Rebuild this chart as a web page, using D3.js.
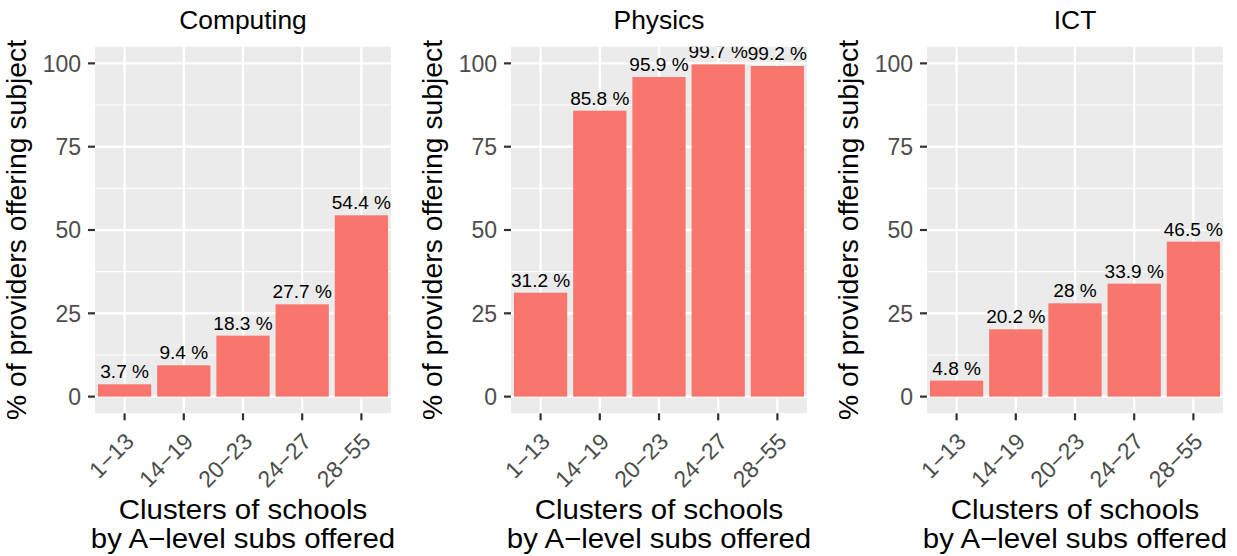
<!DOCTYPE html>
<html>
<head>
<meta charset="utf-8">
<script src="https://cdn.jsdelivr.net/npm/d3@7"></script>
<style>
  html, body { margin: 0; padding: 0; background: #ffffff; }
  svg { display: block; }
  text { font-family: "Liberation Sans", Arial, Helvetica, sans-serif; }
</style>
</head>
<body>
<svg id="chart" width="1237" height="556"></svg>
<script>
// ---- data ----
const categories = ["1\u221213", "14\u221219", "20\u221223", "24\u221227", "28\u221255"];
const subjects = ["Computing", "Physics", "ICT"];
const computingValues = [3.7, 9.4, 18.3, 27.7, 54.4];
const physicsValues = [31.2, 85.8, 95.9, 99.7, 99.2];
const ictValues = [4.8, 20.2, 28, 33.9, 46.5];
const yTicks = [0, 25, 50, 75, 100];
const yMinorTicks = [12.5, 37.5, 62.5, 87.5];
const yTitle = "% of providers offering subject";
const xTitleLines = ["Clusters of schools", "by A\u2212level subs offered"];

const seriesList = [computingValues, physicsValues, ictValues];

// ---- layout ----
const panelW = 296;
const panelLefts = [95, 511, 927];
const panelTop = 46.7, panelBottom = 413.3;

const svg = d3.select("#chart");
const y = d3.scaleLinear().domain([-5, 105]).range([panelBottom, panelTop]);

subjects.forEach((subj, pi) => {
  const values = seriesList[pi];
  const left = panelLefts[pi];
  const x = d3.scalePoint().domain(categories).range([left, left + panelW]).padding(0.5);
  const bw = x.step() * 0.9;
  const g = svg.append("g");

  const clipId = "clip" + pi;
  svg.append("clipPath").attr("id", clipId)
    .append("rect").attr("x", left).attr("y", panelTop)
    .attr("width", panelW).attr("height", panelBottom - panelTop);

  g.append("rect").attr("x", left).attr("y", panelTop)
    .attr("width", panelW).attr("height", panelBottom - panelTop)
    .attr("fill", "#EBEBEB");

  g.selectAll(".minor").data(yMinorTicks).enter().append("line")
    .attr("x1", left).attr("x2", left + panelW)
    .attr("y1", d => y(d)).attr("y2", d => y(d))
    .attr("stroke", "#ffffff").attr("stroke-width", 1.2);
  g.selectAll(".major").data(yTicks).enter().append("line")
    .attr("x1", left).attr("x2", left + panelW)
    .attr("y1", d => y(d)).attr("y2", d => y(d))
    .attr("stroke", "#ffffff").attr("stroke-width", 2.4);
  g.selectAll(".vmajor").data(categories).enter().append("line")
    .attr("y1", panelTop).attr("y2", panelBottom)
    .attr("x1", d => x(d)).attr("x2", d => x(d))
    .attr("stroke", "#ffffff").attr("stroke-width", 2.4);

  const data = categories.map((c, i) => ({ c, v: values[i] }));
  const pg = g.append("g").attr("clip-path", `url(#${clipId})`);

  pg.selectAll(".bar").data(data).enter().append("rect")
    .attr("x", d => x(d.c) - bw / 2)
    .attr("width", bw)
    .attr("y", d => y(d.v))
    .attr("height", d => y(0) - y(d.v))
    .attr("fill", "#F8766D");

  pg.selectAll(".lbl").data(data).enter().append("text")
    .attr("transform", d => `translate(${x(d.c)},${y(d.v) - 6}) scale(1.03,1)`)
    .attr("text-anchor", "middle")
    .attr("font-size", 18.5)
    .attr("fill", "#000000")
    .text(d => d.v + " %");

  g.selectAll(".ytick").data(yTicks).enter().append("line")
    .attr("x1", left - 7).attr("x2", left)
    .attr("y1", d => y(d)).attr("y2", d => y(d))
    .attr("stroke", "#333333").attr("stroke-width", 2.2);
  g.selectAll(".ylab").data(yTicks).enter().append("text")
    .attr("x", left - 14).attr("y", d => y(d))
    .attr("dy", "0.36em")
    .attr("text-anchor", "end")
    .attr("font-size", 23)
    .attr("fill", "#4D4D4D")
    .text(d => d);

  g.selectAll(".xtick").data(categories).enter().append("line")
    .attr("x1", d => x(d)).attr("x2", d => x(d))
    .attr("y1", panelBottom).attr("y2", panelBottom + 7)
    .attr("stroke", "#333333").attr("stroke-width", 2.2);
  g.selectAll(".xlab").data(categories).enter().append("text")
    .attr("transform", d => `translate(${x(d) - 1},${panelBottom + 18}) rotate(-45)`)
    .attr("dy", "0.72em")
    .attr("text-anchor", "end")
    .attr("font-size", 23)
    .attr("fill", "#4D4D4D")
    .text(d => d);

  const cx = left + panelW / 2;
  g.append("text")
    .attr("transform", `translate(${cx},28.5) scale(1.035,1)`)
    .attr("text-anchor", "middle").attr("font-size", 25.5)
    .attr("fill", "#000000").text(subj);

  xTitleLines.forEach((t, li) => {
    g.append("text")
      .attr("transform", `translate(${cx},${519 + li * 29}) scale(1.07,1)`)
      .attr("text-anchor", "middle").attr("font-size", 27.5)
      .attr("fill", "#000000").text(t);
  });

  g.append("text")
    .attr("transform", `translate(${left - 69},${(panelTop + panelBottom) / 2}) rotate(-90)`)
    .attr("text-anchor", "middle").attr("font-size", 28.3)
    .attr("fill", "#000000").text(yTitle);
});
</script>
</body>
</html>
